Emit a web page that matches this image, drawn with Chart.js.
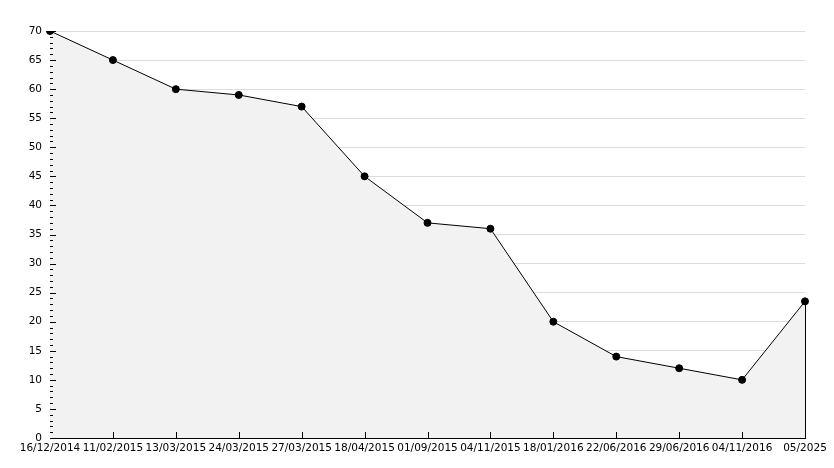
<!DOCTYPE html>
<html>
<head>
<meta charset="utf-8">
<script src="https://cdn.jsdelivr.net/npm/chart.js@4/dist/chart.umd.min.js"></script>
<style>
  html, body { margin: 0; padding: 0; background: #fff; }
  #wrap { width: 834px; height: 468px; }
</style>
</head>
<body>
<div id="wrap"><canvas id="chart"></canvas></div>
<script>
const dates = ['16/12/2014', '11/02/2015', '13/03/2015', '24/03/2015', '27/03/2015', '18/04/2015',
    '01/09/2015', '04/11/2015', '18/01/2016', '22/06/2016', '29/06/2016', '04/11/2016', '05/2025'];
const values = [70, 65, 60, 59, 57, 45, 37, 36, 20, 14, 12, 10, 23.5];
const yMax = 70;
const yStep = 5;

// inward tick marks + closing edge of the filled area
const axisTicks = {
    id: 'axisTicks',
    afterDraw(chart) {
        const ctx = chart.ctx;
        const x = chart.scales.x;
        const y = chart.scales.y;
        ctx.save();
        ctx.strokeStyle = '#000';
        ctx.lineWidth = 1;
        ctx.beginPath();
        for (let v = 0; v <= yMax; v++) {
            const py = Math.round(y.getPixelForValue(v)) + 0.5;
            const len = v % yStep === 0 ? 6 : 3;
            ctx.moveTo(x.left, py);
            ctx.lineTo(x.left + len, py);
        }
        for (let i = 1; i < dates.length - 1; i++) {
            const px = Math.round(x.getPixelForValue(i)) + 0.5;
            ctx.moveTo(px, Math.round(y.bottom));
            ctx.lineTo(px, Math.round(y.bottom) - 6);
        }
        // right edge of the area
        const last = dates.length - 1;
        const lx = Math.round(x.getPixelForValue(last)) + 0.5;
        ctx.moveTo(lx, y.getPixelForValue(values[last]));
        ctx.lineTo(lx, y.bottom);
        ctx.stroke();
        ctx.restore();
    }
};

new Chart(document.getElementById('chart'), {
    type: 'line',
    data: {
        labels: dates,
        datasets: [{
            data: values,
            borderColor: '#000',
            borderWidth: 1,
            backgroundColor: '#f2f2f2',
            fill: 'origin',
            tension: 0,
            pointRadius: 3.5,
            pointStyle: 'circle',
            pointBackgroundColor: '#000',
            pointBorderColor: '#000',
        }]
    },
    options: {
        responsive: true,
        maintainAspectRatio: false,
        animation: false,
        layout: { padding: { top: 31, right: 29, bottom: 0, left: 0 } },
        plugins: { legend: { display: false }, tooltip: { enabled: false } },
        scales: {
            x: {
                offset: false,
                grid: { display: false, drawTicks: false },
                border: { color: '#000', width: 1 },
                ticks: {
                    color: '#000',
                    font: { family: 'DejaVu Sans', size: 10.5 },
                    maxRotation: 0,
                    autoSkip: false,
                    padding: 4,
                },
                afterFit(scale) { scale.height = 30; }
            },
            y: {
                min: 0,
                max: yMax,
                grid: { color: '#dcdcdc', drawTicks: false },
                border: { color: '#000', width: 1 },
                ticks: {
                    stepSize: yStep,
                    color: '#000',
                    font: { family: 'DejaVu Sans', size: 10.5 },
                    padding: 8,
                },
                afterFit(scale) { scale.width = 50; }
            }
        }
    },
    plugins: [axisTicks]
});
</script>
</body>
</html>
